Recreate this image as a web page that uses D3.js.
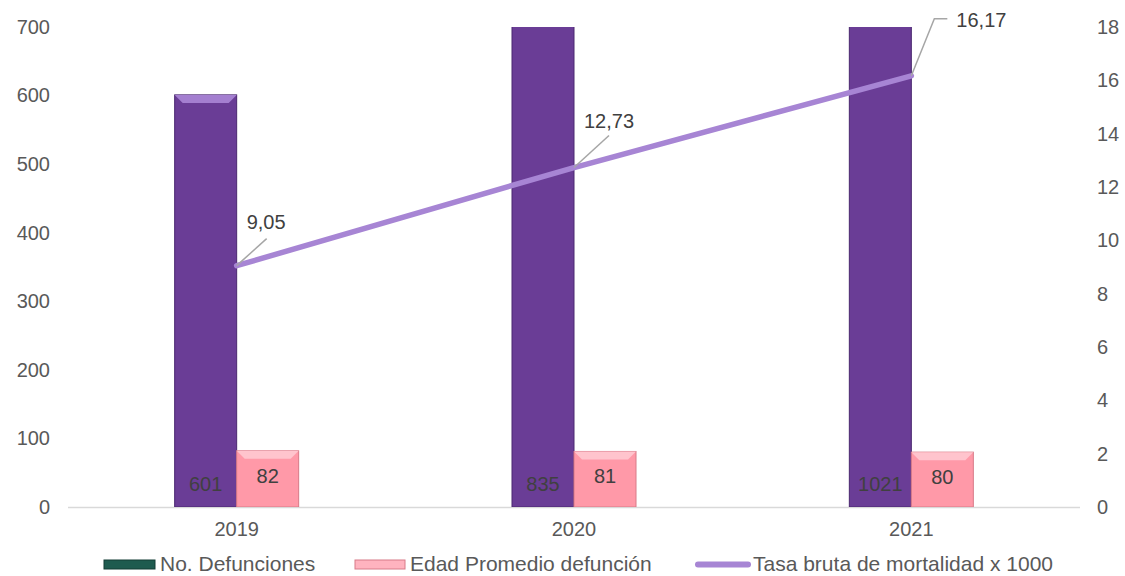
<!DOCTYPE html>
<html>
<head>
<meta charset="utf-8">
<script src="https://cdn.jsdelivr.net/npm/d3@7"></script>
<style>
  body { margin: 0; background: #fff; }
  svg text { font-family: "Liberation Sans", Arial, sans-serif; }
</style>
</head>
<body>
<svg id="chart" width="1125" height="576"></svg>
<script>
// data
var years = ["2019", "2020", "2021"];
var defunciones = [601, 835, 1021];
var edadPromedio = [82, 81, 80];
var tasaBruta = [9.05, 12.73, 16.17];
var tasaLabels = ["9,05", "12,73", "16,17"];
var leftTicks = [0, 100, 200, 300, 400, 500, 600, 700];
var rightTicks = [0, 2, 4, 6, 8, 10, 12, 14, 16, 18];
var legendNames = ["No. Defunciones", "Edad Promedio defunción", "Tasa bruta de mortalidad x 1000"];

window.onload = function(){
    drawChart();
};

function drawChart(){
    let svg = d3.select("#chart");
    let left = 68, right = 1080, top = 27, bottom = 507;

    let x = d3.scaleBand().domain(years).range([left, right]);
    let yL = d3.scaleLinear().domain([0, 700]).range([bottom, top]);
    let yR = d3.scaleLinear().domain([0, 18]).range([bottom, top]);
    let barW = 62;

    let defs = svg.append("defs");
    defs.append("clipPath").attr("id", "plotClip")
        .append("rect").attr("x", left).attr("y", top)
        .attr("width", right - left).attr("height", bottom - top);

    // axes: labels only, no tick marks
    let axL = d3.axisLeft(yL).tickValues(leftTicks).tickSize(0).tickPadding(0);
    let gL = svg.append("g").attr("transform", "translate(50,0)").call(axL);
    gL.select(".domain").remove();
    gL.selectAll("text").attr("fill", "#595959").style("font-size", "20px");

    let axR = d3.axisRight(yR).tickValues(rightTicks).tickSize(0).tickPadding(0);
    let gR = svg.append("g").attr("transform", "translate(1097,0)").call(axR);
    gR.select(".domain").remove();
    gR.selectAll("text").attr("fill", "#595959").style("font-size", "20px");

    // baseline
    svg.append("line").attr("x1", left).attr("x2", right)
        .attr("y1", bottom + 0.5).attr("y2", bottom + 0.5)
        .attr("stroke", "#d9d9d9").attr("stroke-width", 1.5);

    let plot = svg.append("g").attr("clip-path", "url(#plotClip)");

    // purple bars (No. Defunciones)
    let g1 = plot.selectAll(".b1").data(defunciones).enter().append("g");
    g1.append("rect")
        .attr("x", function(d,i){ return x(years[i]) + x.bandwidth()/2 - barW; })
        .attr("y", function(d){ return yL(d); })
        .attr("width", barW)
        .attr("height", function(d){ return bottom - yL(d); })
        .attr("fill", "#6a3d96")
        .attr("stroke", "#4a2870").attr("stroke-width", 1);
    g1.append("path")
        .attr("d", function(d,i){
            let x0 = x(years[i]) + x.bandwidth()/2 - barW, y0 = yL(d);
            return "M" + x0 + "," + y0 + "h" + barW + "l-8,8h" + (-(barW - 16)) + "z";
        })
        .attr("fill", "#a47fd0");

    // pink bars (Edad Promedio)
    let g2 = plot.selectAll(".b2").data(edadPromedio).enter().append("g");
    g2.append("rect")
        .attr("x", function(d,i){ return x(years[i]) + x.bandwidth()/2; })
        .attr("y", function(d){ return yL(d); })
        .attr("width", barW)
        .attr("height", function(d){ return bottom - yL(d); })
        .attr("fill", "#ff99a8")
        .attr("stroke", "#d87a88").attr("stroke-width", 1);
    g2.append("path")
        .attr("d", function(d,i){
            let x0 = x(years[i]) + x.bandwidth()/2, y0 = yL(d);
            return "M" + x0 + "," + y0 + "h" + barW + "l-8,8h" + (-(barW - 16)) + "z";
        })
        .attr("fill", "#ffc4cd");

    // bar labels
    svg.selectAll(".l1").data(defunciones).enter().append("text")
        .attr("x", function(d,i){ return x(years[i]) + x.bandwidth()/2 - barW/2; })
        .attr("y", bottom - 16)
        .attr("text-anchor", "middle")
        .attr("fill", "#404040").style("font-size", "20px")
        .text(function(d){ return d; });
    svg.selectAll(".l2").data(edadPromedio).enter().append("text")
        .attr("x", function(d,i){ return x(years[i]) + x.bandwidth()/2 + barW/2; })
        .attr("y", function(d){ return (yL(d) + bottom)/2 + 4; })
        .attr("text-anchor", "middle")
        .attr("fill", "#404040").style("font-size", "20px")
        .text(function(d){ return d; });

    // line (Tasa bruta)
    let line = d3.line()
        .x(function(d,i){ return x(years[i]) + x.bandwidth()/2; })
        .y(function(d){ return yR(d); });
    svg.append("path").datum(tasaBruta)
        .attr("d", line)
        .attr("fill", "none")
        .attr("stroke", "#a785d4")
        .attr("stroke-width", 5.5)
        .attr("stroke-linecap", "round");

    // leader lines and labels: [dx, dy, horizontal tail, label dx, label dy]
    let offs = [[30, -27, 0, 10, -10], [35, -32, 0, 10, -8], [23, -57, 13, 45, 8]];
    tasaBruta.forEach(function(d,i){
        let px = x(years[i]) + x.bandwidth()/2, py = yR(d);
        let o = offs[i];
        let ex = px + o[0], ey = py + o[1];
        svg.append("path")
            .attr("d", "M" + px + "," + py + "L" + ex + "," + ey + "h" + o[2])
            .attr("fill", "none").attr("stroke", "#a6a6a6").attr("stroke-width", 1.5);
        svg.append("text")
            .attr("x", px + o[3])
            .attr("y", ey + o[4])
            .attr("fill", "#404040").style("font-size", "20px")
            .text(tasaLabels[i]);
    });

    // x labels
    svg.selectAll(".xl").data(years).enter().append("text")
        .attr("x", function(d){ return x(d) + x.bandwidth()/2; })
        .attr("y", 536)
        .attr("text-anchor", "middle")
        .attr("fill", "#595959").style("font-size", "20px")
        .text(function(d){ return d; });

    // legend
    let lg = svg.append("g");
    let lx = [104, 355, 694];
    let tx = [160, 410, 753];
    lg.append("rect").attr("x", lx[0]).attr("y", 560).attr("width", 51).attr("height", 9)
        .attr("fill", "#1e5b4f").attr("stroke", "#123d35");
    lg.append("rect").attr("x", lx[1]).attr("y", 560).attr("width", 50).attr("height", 9)
        .attr("fill", "#ffb3bf").attr("stroke", "#d87a88");
    lg.append("line").attr("x1", lx[2] + 4).attr("x2", lx[2] + 54).attr("y1", 564.5).attr("y2", 564.5)
        .attr("stroke", "#a785d4").attr("stroke-width", 6).attr("stroke-linecap", "round");
    lg.selectAll("text").data(legendNames).enter().append("text")
        .attr("x", function(d,i){ return tx[i]; })
        .attr("y", 571)
        .attr("fill", "#595959").style("font-size", "21px")
        .text(function(d){ return d; });
}
</script>
</body>
</html>
